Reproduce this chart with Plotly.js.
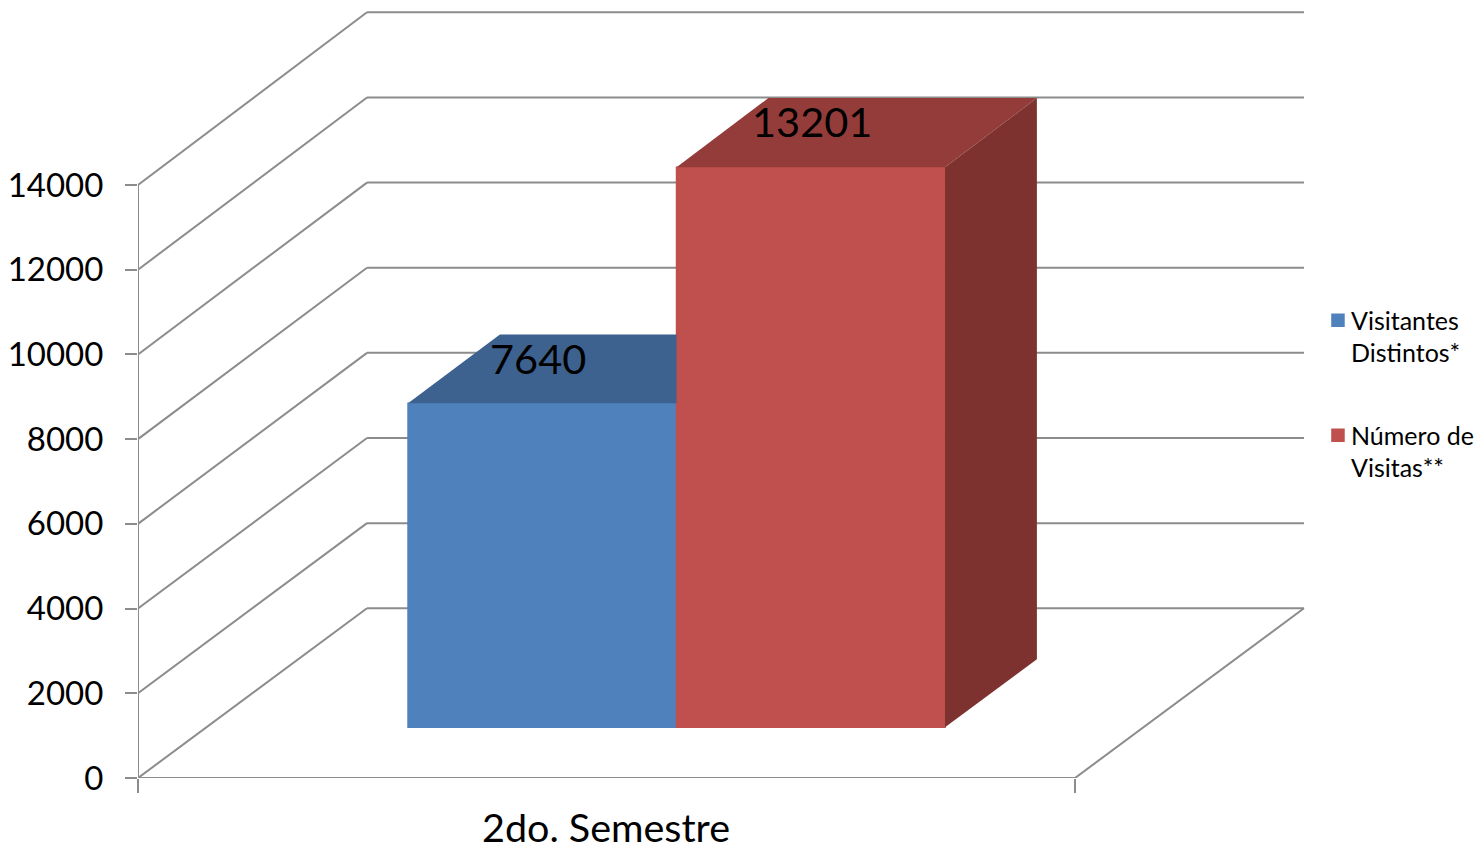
<!DOCTYPE html>
<html><head><meta charset="utf-8">
<script src="https://cdn.plot.ly/plotly-3.0.1.min.js"></script>
<style>html,body{margin:0;padding:0;background:#fff}#c{width:1474px;height:850px}</style>
</head><body><div id="c"></div>
<script>
const categories = ['2do. Semestre'];
const seriesNames = ['Visitantes<br>Distintos*', 'Número de<br>Visitas**'];
const visitantes = [7640];
const visitas = [13201];
const yTicks = [0, 2000, 4000, 6000, 8000, 10000, 12000, 14000];
const yTickText = ['0', '2000', '4000', '6000', '8000', '10000', '12000', '14000'];

const FONT = 'Lato, Carlito, Calibri, sans-serif';
const GRID = '#8c8c8c';
const pxPerUnit = 0.04236;      // vertical pixels per value unit on the front plane
const floorW = 937, depthX = 229, depthY = 169.7 / pxPerUnit, backScale = 1.005;
// oblique projection: x along the floor, v value, d depth 0..1
const px = (x, d) => x + d * depthX;
const py = (v, d) => v * (1 + d * (backScale - 1)) + d * depthY;

const d0 = 0.2988, d1 = 0.70;     // bar front / back depth
const slot0 = 201.6, barW = 268.5;   // first bar's left edge (at d=0) and bar width
const edges = [slot0, slot0 + barW, slot0 + 2 * barW];

const shapes = [];
const seg = (x0, y0, x1, y1) => shapes.push({type:'line', layer:'below', xref:'x', yref:'y',
  x0, y0, x1, y1, line:{color:GRID, width:2}});
yTicks.forEach(v => {
  seg(px(0,0), py(v,0), px(0,1), py(v,1));
  seg(px(0,1), py(v,1), px(floorW,1), py(v,1));
});
seg(0, 0, 0, py(yTicks[yTicks.length-1],0));
seg(0, 0, floorW, 0);
seg(px(floorW,0), py(0,0), px(floorW,1), py(0,1));

function bar(i, v, color, name, group){
  return {type:'bar', x:[px(edges[i],d0)+barW/2], y:[v*(1+d0*(backScale-1))], base:[py(0,d0)], width:[barW],
    marker:{color, line:{width:1.5,color}}, name, legendgroup:group, hoverinfo:'skip'};
}
function face(xs, ys, color){
  return {type:'scatter', mode:'lines', x:xs.concat(xs[0]), y:ys.concat(ys[0]), fill:'toself',
    fillcolor:color, line:{width:0,color}, showlegend:false, hoverinfo:'skip'};
}
const vb = visitantes[0], vr = visitas[0];
const blueClip = px(edges[1], d0);
const traces = [
  bar(0, vb, '#4f81bd', seriesNames[0], 'a'),
  bar(1, vr, '#c0504d', seriesNames[1], 'b'),
  face([px(edges[0],d0), blueClip, blueClip, px(edges[0],d1)],
       [py(vb,d0), py(vb,d0), py(vb,d1), py(vb,d1)], '#3e628f'),
  face([px(edges[1],d0), px(edges[2],d0), px(edges[2],d1), px(edges[1],d1)],
       [py(vr,d0), py(vr,d0), py(vr,d1), py(vr,d1)], '#943c3a'),
  face([px(edges[2],d0), px(edges[2],d1), px(edges[2],d1), px(edges[2],d0)],
       [py(0,d0), py(0,d1), py(vr,d1), py(vr,d0)], '#7d3230')
];

const annotations = [
  {xref:'x', yref:'y', x:px(edges[0],d0)+129.5, y:py(vb,d0)+45/pxPerUnit, text:String(vb), showarrow:false,
   font:{family:FONT,size:41.5,color:'#000'}},
  {xref:'x', yref:'y', x:px(edges[1],d0)+135, y:py(vr,d0)+46/pxPerUnit, text:String(vr), showarrow:false,
   font:{family:FONT,size:41.5,color:'#000'}}
];

const gd = document.getElementById('c');
Plotly.newPlot(gd, traces, {
  width:1474, height:850, margin:{l:138,r:0,t:0,b:72,pad:0,autoexpand:false},
  paper_bgcolor:'#fff', plot_bgcolor:'rgba(0,0,0,0)',
  barmode:'overlay', showlegend:true, shapes, annotations,
  xaxis:{range:[0,1336], showgrid:false, zeroline:false, showline:false,
    tickmode:'array', tickvals:[468], ticktext:categories, ticks:'', ticklabelstandoff:23,
    tickfont:{family:FONT,size:39.5,color:'#000'},
    minor:{tickmode:'array', tickvals:[0,floorW], ticks:'outside', ticklen:14, tickwidth:2, tickcolor:GRID, showgrid:false}},
  yaxis:{range:[0,778/pxPerUnit], showgrid:false, zeroline:false, showline:false,
    tickmode:'array', tickvals:yTicks, ticktext:yTickText, ticks:'outside', ticklen:12, tickwidth:2, tickcolor:GRID,
    ticklabelstandoff:15, tickfont:{family:FONT,size:33,color:'#000'}},
  legend:{xref:'container', yref:'container', x:0.8894, xanchor:'left', y:0.6503, yanchor:'top',
    font:{family:FONT,size:25,color:'#000'},
    tracegroupgap:47, bgcolor:'rgba(0,0,0,0)', borderwidth:0}
}, {displayModeBar:false, staticPlot:true}).then(() => {
  // the reference's legend keys sit beside the first text line, closer to the text
  gd.querySelectorAll('.legendsymbols').forEach(s => s.setAttribute('transform', 'translate(7,-16)'));
});
</script></body></html>
